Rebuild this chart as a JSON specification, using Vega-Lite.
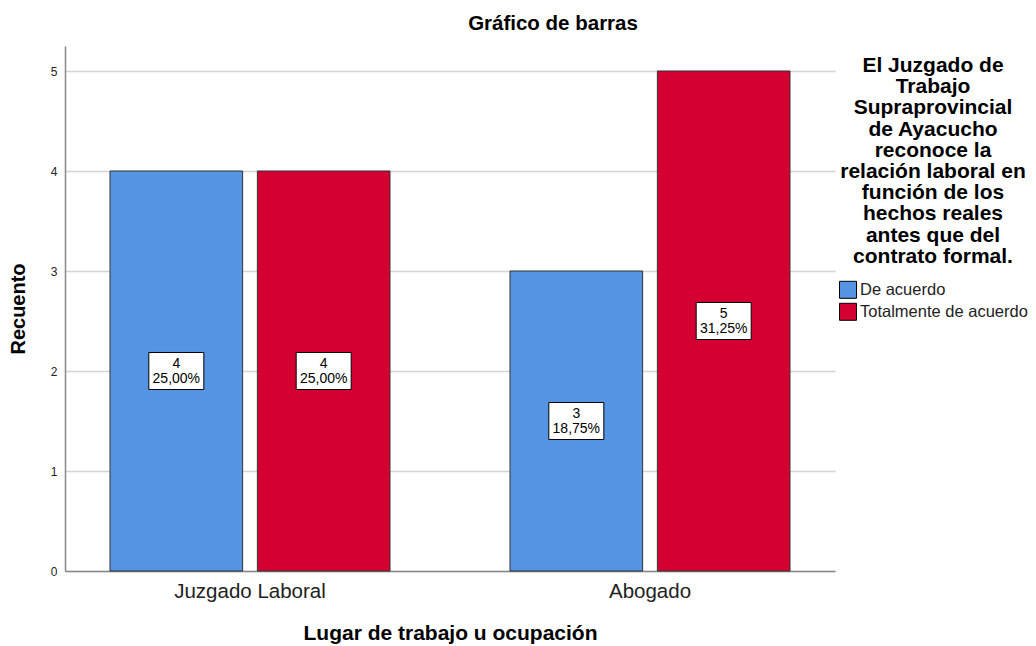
{
  "$schema": "https://vega.github.io/schema/vega-lite/v6.json",
  "width": 770,
  "height": 525,
  "autosize": {"type": "none"},
  "padding": {"left": 65, "top": 46, "right": 201, "bottom": 75},
  "background": "white",
  "config": {
    "font": "Liberation Sans",
    "view": {"stroke": null}
  },
  "title": {
    "text": "Gráfico de barras",
    "fontSize": 20.5,
    "fontWeight": "bold",
    "font": "Liberation Sans",
    "color": "#000000",
    "offset": 12,
    "dx": 103
  },
  "data": {
    "values": [
      {"lugar": "Juzgado Laboral", "respuesta": "De acuerdo", "recuento": 4, "etiqueta": "4\n25,00%"},
      {"lugar": "Juzgado Laboral", "respuesta": "Totalmente de acuerdo", "recuento": 4, "etiqueta": "4\n25,00%"},
      {"lugar": "Abogado", "respuesta": "De acuerdo", "recuento": 3, "etiqueta": "3\n18,75%"},
      {"lugar": "Abogado", "respuesta": "Totalmente de acuerdo", "recuento": 5, "etiqueta": "5\n31,25%"}
    ]
  },
  "encoding": {
    "x": {
      "field": "lugar",
      "type": "nominal",
      "sort": ["Juzgado Laboral", "Abogado"],
      "scale": {"paddingInner": 0.3, "paddingOuter": 0.1125},
      "axis": {
        "title": "Lugar de trabajo u ocupación",
        "titleFontSize": 21,
        "titleFontWeight": "bold",
        "titleColor": "#000000",
        "titlePadding": 21,
        "labelAngle": 0,
        "labelFontSize": 20.5,
        "labelColor": "#222222",
        "labelPadding": 10,
        "ticks": false,
        "domainColor": "#888888",
        "domainWidth": 1.5
      }
    },
    "xOffset": {
      "field": "respuesta",
      "type": "nominal",
      "sort": ["De acuerdo", "Totalmente de acuerdo"],
      "scale": {"paddingInner": 0.1, "paddingOuter": 0}
    }
  },
  "resolve": {"scale": {"y": "independent"}},
  "layer": [
    {
      "mark": {"type": "bar", "stroke": "#333333", "strokeWidth": 1},
      "encoding": {
        "y": {
          "field": "recuento",
          "type": "quantitative",
          "scale": {"domain": [0, 5.25], "nice": false},
          "axis": {
            "title": "Recuento",
            "titleFontSize": 20,
            "titleFontWeight": "bold",
            "titleColor": "#000000",
            "titlePadding": 22,
            "values": [0, 1, 2, 3, 4, 5],
            "format": "d",
            "labelFontSize": 12,
            "labelColor": "#222222",
            "labelPadding": 8,
            "ticks": false,
            "grid": true,
            "gridColor": "#d4d4d4",
            "gridWidth": 1.5,
            "domainColor": "#888888",
            "domainWidth": 1.5
          }
        },
        "color": {
          "field": "respuesta",
          "type": "nominal",
          "sort": ["De acuerdo", "Totalmente de acuerdo"],
          "scale": {"range": ["#5594E3", "#D50032"]},
          "legend": {
            "orient": "none",
            "legendX": 774,
            "legendY": 9,
            "title": ["El Juzgado de", "Trabajo", "Supraprovincial", "de Ayacucho", "reconoce la", "relación laboral en", "función de los", "hechos reales", "antes que del", "contrato formal."],
            "titleFontSize": 21,
            "titleFontWeight": "bold",
            "titleColor": "#000000",
            "titleAlign": "center",
            "titleAnchor": "middle",
            "titleLineHeight": 21.2,
            "titleLimit": 400,
            "titlePadding": 14,
            "symbolType": "square",
            "symbolSize": 289,
            "symbolStrokeColor": "#000000",
            "symbolStrokeWidth": 1,
            "symbolOpacity": 1,
            "labelFontSize": 16.5,
            "labelColor": "#222222",
            "labelOffset": 3,
            "labelLimit": 300,
            "rowPadding": 0
          }
        }
      }
    },
    {
      "encoding": {
        "y": {
          "field": "recuento",
          "type": "quantitative",
          "scale": {"domain": [0, 10.5], "nice": false},
          "axis": null
        }
      },
      "layer": [
        {
          "mark": {
            "type": "point",
            "shape": "M-1,-0.673L1,-0.673L1,0.673L-1,0.673Z",
            "filled": true,
            "fill": "white",
            "stroke": "#000000",
            "strokeWidth": 1,
            "opacity": 1,
            "size": 3025
          }
        },
        {
          "mark": {"type": "text", "lineBreak": "\n", "fontSize": 14, "lineHeight": 15, "dy": -7.5, "color": "#000000", "baseline": "middle", "align": "center"},
          "encoding": {
            "text": {"field": "etiqueta", "type": "nominal"}
          }
        }
      ]
    }
  ]
}
